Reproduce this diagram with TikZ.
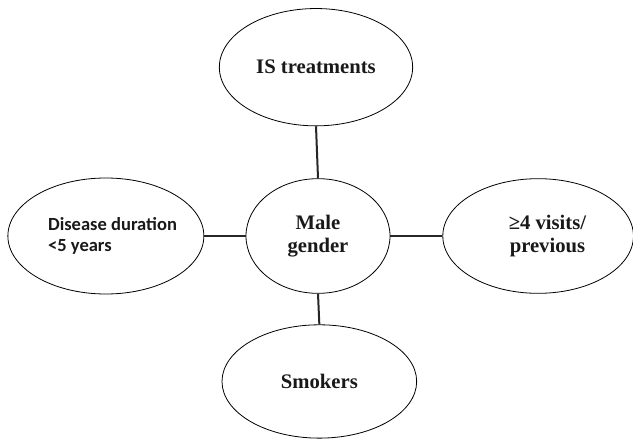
\documentclass[tikz,border=0pt]{standalone}
\usepackage{fontspec}
\setmainfont{Liberation Serif}
\newfontfamily\calibrifont{Carlito}
\usetikzlibrary{positioning, shapes.geometric}

\tikzset{
    factor/.style={draw, ellipse, line width=0.6pt, inner sep=0pt, align=center,
        font=\bfseries\fontsize{15.5}{17.5}\selectfont, text=black!90},
    link/.style={line width=1.5pt, black!85}
}

\begin{document}
\begin{tikzpicture}[x=0.75pt, y=-0.75pt]
    \useasboundingbox (0,0) rectangle (633,439);
    \node (Male) [factor, minimum width=108pt, minimum height=86pt] at (318,236) {Male\\gender};
    \node (IS) [factor, minimum width=145pt, minimum height=88pt, above=39pt of Male, xshift=-1.5pt] {IS treatments};
    \node (Smokers) [factor, minimum width=146pt, minimum height=85pt, below=23pt of Male, xshift=1pt] {Smokers};
    \node (Disease) [factor, minimum width=147pt, minimum height=87pt, left=31pt of Male,
        label={[align=left, xshift=5pt, text=black!90, font=\calibrifont\bfseries\fontsize{13.9}{16.3}\selectfont]center:Disease duration\\<5 years}] {};
    \node (Visits) [factor, minimum width=143pt, minimum height=86pt, right=39pt of Male,
        label={[align=center, xshift=7pt, text=black!90, font=\bfseries\fontsize{15.5}{17.5}\selectfont]center:≥4 visits/\\previous}] {};
    \draw [link] (IS.south) -- (Male.north);
    \draw [link] (Male.south) -- (Smokers.north);
    \draw [link] (Disease.east) -- (Male.west);
    \draw [link] (Male.east) -- (Visits.west);
\end{tikzpicture}
\end{document}
